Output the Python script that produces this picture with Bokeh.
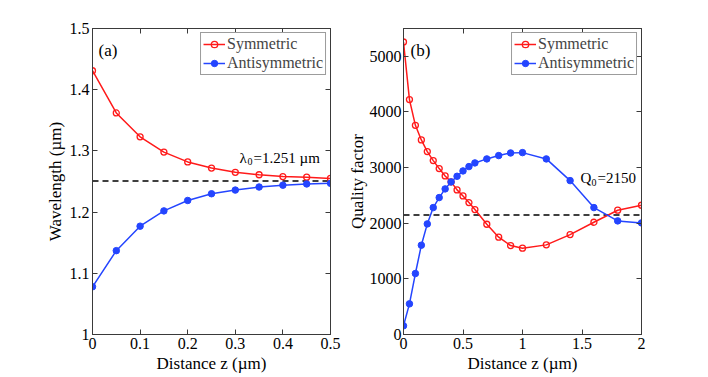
from bokeh.plotting import figure
from bokeh.layouts import row
from bokeh.models import LinearAxis, FixedTicker, Label, Range1d, Legend, LegendItem
from bokeh.embed import file_html
from bokeh.resources import INLINE

# ---------- data: panel (a) ----------
za = [0, 0.05, 0.1, 0.15, 0.2, 0.25, 0.3, 0.35, 0.4, 0.45, 0.5]
wl_sym = [1.431, 1.362, 1.323, 1.298, 1.282, 1.272, 1.265, 1.261, 1.258, 1.257, 1.255]
wl_anti = [1.078, 1.137, 1.177, 1.202, 1.219, 1.230, 1.236, 1.241, 1.244, 1.246, 1.247]
lambda0 = 1.251
xa_ticks = [0, 0.1, 0.2, 0.3, 0.4, 0.5]
xa_labels = ["0", "0.1", "0.2", "0.3", "0.4", "0.5"]
ya_ticks = [1, 1.1, 1.2, 1.3, 1.4, 1.5]
ya_labels = ["1", "1.1", "1.2", "1.3", "1.4", "1.5"]

# ---------- data: panel (b) ----------
zb = [0, 0.05, 0.1, 0.15, 0.2, 0.25, 0.3, 0.35, 0.4, 0.45, 0.5, 0.55, 0.6,
      0.7, 0.8, 0.9, 1.0, 1.2, 1.4, 1.6, 1.8, 2.0]
q_sym = [5257, 4222, 3760, 3497, 3287, 3126, 2982, 2850, 2743, 2599, 2491, 2371, 2246,
         1982, 1749, 1599, 1551, 1611, 1796, 2018, 2234, 2323]
q_anti = [156, 551, 1096, 1605, 1988, 2281, 2461, 2617, 2743, 2844, 2940, 3018, 3084,
          3156, 3216, 3263, 3269, 3156, 2766, 2281, 2042, 2006]
q0 = 2150
xb_ticks = [0, 0.5, 1, 1.5, 2]
xb_labels = ["0", "0.5", "1", "1.5", "2"]
yb_ticks = [0, 1000, 2000, 3000, 4000, 5000]
yb_labels = ["0", "1000", "2000", "3000", "4000", "5000"]

FONT = "Liberation Serif"
RED = "#ff1a1a"
BLUE = "#2445ff"
AXC = "#3a3a3a"


def style_axis(ax, ticks, labels, show_labels=True):
    ax.ticker = FixedTicker(ticks=ticks)
    ax.major_tick_in = 5
    ax.major_tick_out = 0
    ax.minor_tick_in = 0
    ax.minor_tick_out = 0
    ax.axis_line_color = AXC
    ax.major_tick_line_color = AXC
    ax.major_label_text_font = FONT
    ax.major_label_text_color = "black"
    ax.major_label_text_font_size = "16px"
    ax.major_label_standoff = 3
    if show_labels:
        ax.major_label_overrides = {t: l for t, l in zip(ticks, labels)}
    else:
        ax.major_label_overrides = {t: "" for t in ticks}
        ax.major_label_standoff = 0
    ax.axis_label_text_font = FONT
    ax.axis_label_text_font_style = "normal"
    ax.axis_label_text_font_size = "17px"
    ax.axis_label_text_color = "black"
    ax.axis_label_standoff = 2


def make_fig(xr, yr, xt, xl, yt, yl, xlabel, ylabel, bl, br):
    p = figure(frame_width=238, frame_height=306, x_range=Range1d(*xr), y_range=Range1d(*yr),
               output_backend="svg", toolbar_location=None,
               min_border_left=bl, min_border_right=br, min_border_top=28, min_border_bottom=35)
    p.grid.visible = False
    p.outline_line_color = AXC
    p.background_fill_color = "white"
    p.border_fill_color = "white"
    style_axis(p.xaxis[0], xt, xl)
    style_axis(p.yaxis[0], yt, yl)
    p.xaxis[0].axis_label = xlabel
    p.yaxis[0].axis_label = ylabel
    top = LinearAxis()
    style_axis(top, xt, xl, show_labels=False)
    p.add_layout(top, "above")
    right = LinearAxis()
    style_axis(right, yt, yl, show_labels=False)
    p.add_layout(right, "right")
    return p


def add_series(p, x, ys, ya, ref, xr):
    p.line([xr[0], xr[1]], [ref, ref], line_color="black", line_width=1.5, line_dash="6 4")
    l1 = p.line(x, ys, line_color=RED, line_width=1.5)
    m1 = p.scatter(x, ys, marker="circle", size=6, line_color=RED, fill_color=None, line_width=1.3)
    l2 = p.line(x, ya, line_color=BLUE, line_width=1.5)
    m2 = p.scatter(x, ya, marker="circle", size=6.5, line_color=BLUE, fill_color=BLUE)
    leg = Legend(items=[LegendItem(label="Symmetric", renderers=[l1, m1]),
                        LegendItem(label="Antisymmetric", renderers=[l2, m2])],
                 location="top_right")
    leg.label_text_font = FONT
    leg.label_text_font_size = "16px"
    leg.label_height = 16
    leg.glyph_height = 16
    leg.glyph_width = 22
    leg.label_standoff = 2
    leg.spacing = 1
    leg.padding = 2
    leg.margin = 4
    leg.border_line_color = AXC
    leg.border_line_width = 1
    leg.background_fill_alpha = 1
    p.add_layout(leg, "center")


def lab(p, x, y, text, size="14px", xo=0, yo=0):
    p.add_layout(Label(x=x, y=y, text=text, x_offset=xo, y_offset=yo, text_font=FONT,
                       text_font_size=size, text_color="black", text_baseline="alphabetic"))


# panel (a)
pa = make_fig((0, 0.5), (1, 1.5), xa_ticks, xa_labels, ya_ticks, ya_labels,
              "Distance z (\u00b5m)", "Wavelength (\u00b5m)", 92, 14)
add_series(pa, za, wl_sym, wl_anti, lambda0, (0, 0.5))
lab(pa, 0.0126, 1.464, "(a)", size="17px")
lab(pa, 0.309, 1.289, "\u03bb", size="15px")
lab(pa, 0.309, 1.289, "0", size="10px", xo=8, yo=-4)
lab(pa, 0.309, 1.289, "=1.251 \u00b5m", size="15px", xo=14)

# panel (b)
pb = make_fig((0, 2), (0, 5500), xb_ticks, xb_labels, yb_ticks, yb_labels,
              "Distance z (\u00b5m)", "Quality factor", 50, 50)
pb.yaxis[0].major_label_standoff = 2
pb.yaxis[0].axis_label_standoff = 0
add_series(pb, zb, q_sym, q_anti, q0, (0, 2))
lab(pb, 0.059, 5105, "(b)", size="17px")
lab(pb, 1.487, 2804, "Q", size="15px")
lab(pb, 1.487, 2804, "0", size="10px", xo=11, yo=-4)
lab(pb, 1.487, 2804, "=2150", size="15px", xo=17)

layout = row(pa, pb)
open("out.html", "w").write(file_html(layout, INLINE))
